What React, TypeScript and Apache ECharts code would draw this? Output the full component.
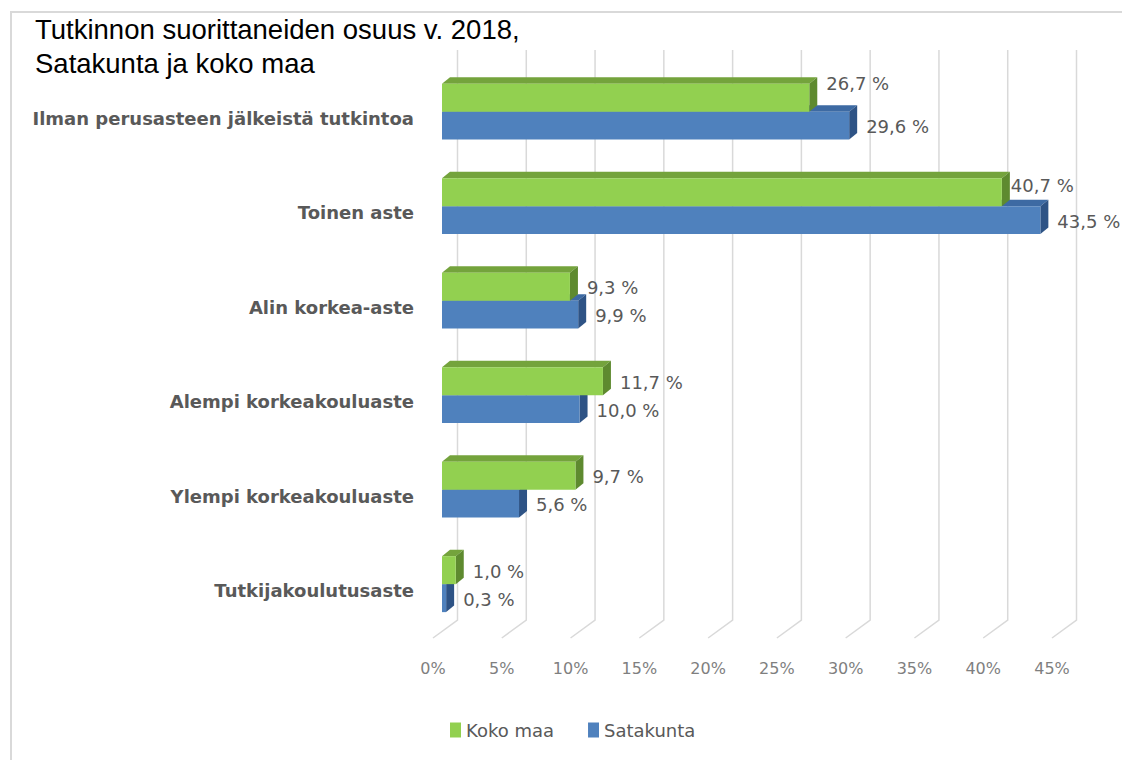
import React, { useEffect, useRef } from "react";
import * as echarts from "echarts";

const categories = [
  "Ilman perusasteen jälkeistä tutkintoa",
  "Toinen aste",
  "Alin korkea-aste",
  "Alempi korkeakouluaste",
  "Ylempi korkeakouluaste",
  "Tutkijakoulutusaste",
];
const kokoMaa = [26.7, 40.7, 9.3, 11.7, 9.7, 1.0];
const satakunta = [29.6, 43.5, 9.9, 10.0, 5.6, 0.3];
const xTicks = [0, 5, 10, 15, 20, 25, 30, 35, 40, 45];

// layout tweaks for a few data labels (dx, dy), as placed in the original
const greenLabelNudge = [[0, -15], [-8, -8], [0, 0], [0, 0], [0, 0], [0, 0]];
const blueLabelNudge = [[0, 0], [0, 0], [0, 0], [0, 0], [0, 0], [0, 0]];

const FONT = '"DejaVu Sans", sans-serif';

function fmt(v: number) {
  return v.toFixed(1).replace(".", ",") + " %";
}

function makeBarRender(isGreen: boolean, front: string, top: string, side: string, nudge: number[][]) {
  return (params: any, api: any) => {
    const v = api.value(0);
    const c = api.value(1);
    const base = api.coord([0, c]);
    const end = api.coord([v, c]);
    const band = api.size([0, 1])[1];
    const h = band * 0.296;
    const fx = 9, fy = -6.6;
    const dx = 8, dy = -6.5;
    const cy = base[1] + fy;
    const yt = isGreen ? cy - h : cy;
    const yb = yt + h;
    const x0 = base[0] + fx;
    const x1 = end[0] + fx;
    const nd = nudge[c] || [0, 0];
    return {
      type: "group",
      children: [
        {
          type: "polygon",
          shape: { points: [[x0, yt], [x0 + dx, yt + dy], [x1 + dx, yt + dy], [x1, yt]] },
          style: { fill: top },
        },
        {
          type: "polygon",
          shape: { points: [[x1, yt], [x1 + dx, yt + dy], [x1 + dx, yb + dy], [x1, yb]] },
          style: { fill: side },
        },
        {
          type: "rect",
          shape: { x: x0, y: yt, width: Math.max(0, x1 - x0), height: h },
          style: { fill: front },
        },
        {
          type: "text",
          style: {
            text: fmt(v),
            x: x1 + 17 + nd[0],
            y: (yt + yb) / 2 + 1 + nd[1],
            textAlign: "left",
            textVerticalAlign: "middle",
            verticalAlign: "middle",
            fill: "#595959",
            fontSize: 18,
            fontFamily: FONT,
          },
        },
      ],
    };
  };
}

export default function App() {
  const ref = useRef<HTMLDivElement>(null);
  useEffect(() => {
    if (!ref.current) return;
    const chart = echarts.init(ref.current, undefined, { renderer: "svg" });
    const option: any = {
      animation: false,
      backgroundColor: "#ffffff",
      title: {
        text: "Tutkinnon suorittaneiden osuus v. 2018,\nSatakunta ja koko maa",
        left: 35,
        top: 12,
        padding: 0,
        textStyle: {
          fontFamily: '"Liberation Sans", Arial, sans-serif',
          fontSize: 27.5,
          fontWeight: "normal",
          color: "#000000",
          lineHeight: 34,
        },
      },
      legend: {
        data: ["Koko maa", "Satakunta"],
        left: 445,
        top: 716,
        icon: "rect",
        itemWidth: 11,
        itemHeight: 15,
        itemGap: 34,
        textStyle: { color: "#595959", fontSize: 18, fontFamily: FONT },
      },
      graphic: [
        {
          type: "rect",
          shape: { x: 11, y: 12, width: 1200, height: 800 },
          style: { fill: "none", stroke: "#d9d9d9", lineWidth: 2 },
          silent: true,
          z: -1,
        },
      ],
      grid: { left: 433, right: 70, top: 71, bottom: 760 - 638 },
      xAxis: {
        type: "value",
        min: 0,
        max: 45,
        interval: 5,
        axisLine: { show: false },
        axisTick: { show: false },
        splitLine: { show: false },
        axisLabel: {
          formatter: "{value}%",
          color: "#7f7f7f",
          fontSize: 16,
          fontFamily: FONT,
          margin: 22,
        },
      },
      yAxis: {
        type: "category",
        inverse: true,
        data: categories,
        axisLine: { show: false },
        axisTick: { show: false },
        splitLine: { show: false },
        axisLabel: {
          color: "#595959",
          fontSize: 18,
          fontWeight: "bold",
          fontFamily: FONT,
          margin: 19,
        },
      },
      series: [
        {
          type: "custom",
          name: "gridlines",
          silent: true,
          z: 1,
          data: xTicks.map((t) => [t, 0]),
          encode: { x: 0, y: 1 },
          renderItem: (params: any, api: any) => {
            const cs = params.coordSys;
            const x = api.coord([api.value(0), 0])[0];
            const yb = cs.y + cs.height;
            return {
              type: "polyline",
              shape: { points: [[x, yb], [x + 24.5, yb - 18], [x + 24.5, cs.y - 21]] },
              style: { stroke: "#d9d9d9", lineWidth: 1.5, fill: "none" },
            };
          },
        },
        {
          type: "custom",
          name: "Satakunta",
          z: 2,
          itemStyle: { color: "#4F81BD" },
          data: satakunta.map((v, i) => [v, i]),
          encode: { x: 0, y: 1 },
          renderItem: makeBarRender(false, "#4F81BD", "#3D6AA3", "#2E5385", blueLabelNudge),
        },
        {
          type: "custom",
          name: "Koko maa",
          z: 3,
          itemStyle: { color: "#92D050" },
          data: kokoMaa.map((v, i) => [v, i]),
          encode: { x: 0, y: 1 },
          renderItem: makeBarRender(true, "#92D050", "#74A33C", "#5E8A2F", greenLabelNudge),
        },
      ],
    };
    chart.setOption(option);
    return () => chart.dispose();
  }, []);
  return (
    <div
      ref={ref}
      style={{ position: "fixed", left: 0, top: 0, width: 1122, height: 760, background: "#fff" }}
    />
  );
}
